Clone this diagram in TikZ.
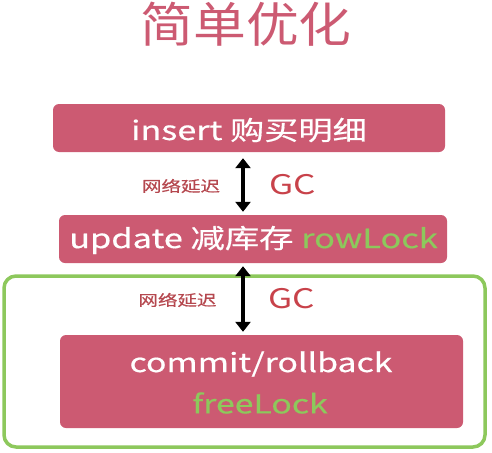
\documentclass[tikz,border=0pt]{standalone}
\usepackage{fontspec}
\setmainfont{Noto Sans CJK SC}[FakeStretch=1.3]
\newfontfamily\boxfont{Noto Sans CJK SC}[FakeStretch=1.3,FakeBold=0.6]
\newfontfamily\titlefont{Noto Sans CJK SC}[FakeStretch=1.1]
\usetikzlibrary{arrows.meta}
\definecolor{boxpink}{HTML}{CC5A72}
\definecolor{lockgreen}{HTML}{8DC85C}
\definecolor{gcred}{HTML}{C8424A}
\definecolor{netred}{HTML}{B5484F}
\tikzset{
  stepbox/.style={fill=boxpink, rounded corners=6pt, inner sep=0pt},
  boxtext/.style={text=white, inner sep=0pt},
  dblarrow/.style={line width=3.3pt, {Triangle[width=15pt,length=10pt]}-{Triangle[width=15pt,length=10pt]}},
  netlabel/.style={text=netred, font=\boxfont\fontsize{15}{18}\selectfont, inner sep=0pt},
  gclabel/.style={text=gcred, font=\fontsize{27}{30}\selectfont, inner sep=0pt},
}
\begin{document}
\begin{tikzpicture}[x=1pt,y=-1pt]
\useasboundingbox (0,0) rectangle (492,452);
\node[text=boxpink, font=\titlefont\fontsize{48}{54}\selectfont, inner sep=0pt] (title) at (246,24) {简单优化};
\draw[lockgreen, line width=3.5pt, rounded corners=12pt] (4,276) rectangle (485,447);
\node[stepbox, minimum width=392pt, minimum height=48pt] (box1) at (249,128) {};
\node[stepbox, minimum width=388pt, minimum height=48pt] (box2) at (253,239) {};
\node[stepbox, minimum width=403pt, minimum height=93pt] (box3) at (261.5,381.5) {};
\node[boxtext, font=\boxfont\fontsize{26.3}{30}\selectfont] (t1) at (249,130) {insert 购买明细};
\node[boxtext, font=\boxfont\fontsize{26.4}{30}\selectfont] (t2) at (253.5,240) {update 减库存 \textcolor{lockgreen}{rowLock}};
\node[boxtext, font=\boxfont\fontsize{26}{30}\selectfont] (t3) at (261,364) {commit/rollback};
\node[boxtext, text=lockgreen, font=\boxfont\fontsize{26}{30}\selectfont] (t4) at (260,403) {freeLock};
\coordinate (ax) at (243,0);
\draw[dblarrow, shorten <=6pt, shorten >=3pt] (box1.south -| ax) -- (box2.north -| ax);
\draw[dblarrow, shorten <=3pt, shorten >=3pt] (box2.south -| ax) -- (box3.north -| ax);
\node[netlabel] (n1) at (181,186) {网络延迟};
\node[gclabel] (g1) at (293,185) {GC};
\node[netlabel] (n2) at (177.5,300) {网络延迟};
\node[gclabel] (g2) at (291.5,299) {GC};
\end{tikzpicture}
\end{document}
